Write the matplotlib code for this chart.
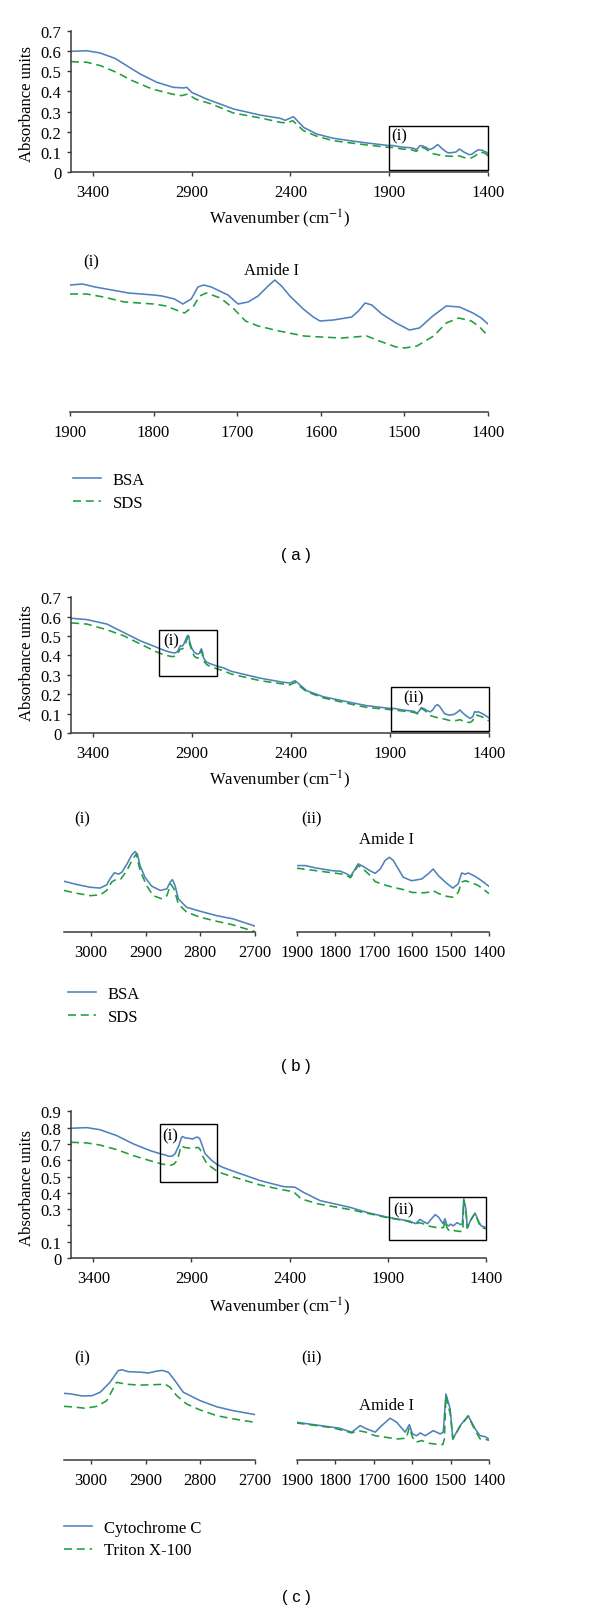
import numpy as np
import matplotlib
matplotlib.use('Agg')
import matplotlib.pyplot as plt
from matplotlib.patches import Rectangle

plt.rcParams['font.family'] = ['Liberation Serif', 'DejaVu Serif']
plt.rcParams['mathtext.fontset'] = 'stix'

BLUE = '#4F81BD'
GREEN = '#1E9E3C'
DASH = (0, (5.0, 3.0))
AXC = '#3a3a3a'
FS = 12

# ---------------- datos (a) BSA / SDS ----------------
a_bsa_wn = [3510, 3430, 3363, 3287, 3228, 3160, 3076, 2992, 2941, 2924, 2899, 2823, 2688,
            2553, 2452, 2426, 2384, 2333, 2266, 2182, 2097, 2013]
a_bsa = [0.598, 0.601, 0.590, 0.563, 0.527, 0.486, 0.445, 0.420, 0.417, 0.420, 0.395, 0.362, 0.313,
         0.283, 0.267, 0.257, 0.275, 0.222, 0.189, 0.168, 0.156, 0.145]
a_sds_wn = [3510, 3430, 3360, 3280, 3200, 3100, 3000, 2950, 2920, 2880, 2800, 2688, 2553,
            2452, 2418, 2388, 2334, 2266, 2182, 2013]
a_sds = [0.547, 0.544, 0.527, 0.494, 0.453, 0.412, 0.387, 0.379, 0.387, 0.362, 0.338, 0.293, 0.269,
         0.247, 0.244, 0.255, 0.206, 0.178, 0.156, 0.135]

# inset (i) de (a): 1900-1400
ai_bsa_wn = [1900, 1885, 1870, 1850, 1830, 1800, 1790, 1775, 1765, 1755, 1747, 1740, 1731, 1721,
             1711, 1699, 1687, 1675, 1663, 1655, 1647, 1637, 1621, 1609, 1601, 1585, 1563, 1555,
             1547, 1539, 1527, 1510, 1494, 1482, 1466, 1450, 1434, 1418, 1408, 1400]
ai_bsa = [0.132, 0.133, 0.130, 0.127, 0.124, 0.122, 0.121, 0.118, 0.113, 0.118, 0.130, 0.132, 0.130,
          0.126, 0.122, 0.113, 0.115, 0.121, 0.131, 0.137, 0.131, 0.121, 0.108, 0.100, 0.096, 0.097,
          0.100, 0.106, 0.114, 0.112, 0.103, 0.094, 0.087, 0.089, 0.101, 0.111, 0.110, 0.104, 0.099,
          0.093]
ai_sds_wn = [1900, 1880, 1860, 1835, 1800, 1785, 1770, 1763, 1752, 1745, 1737, 1720, 1705, 1690,
             1675, 1650, 1620, 1600, 1575, 1560, 1545, 1530, 1510, 1500, 1485, 1465, 1450, 1435,
             1420, 1410, 1400]
ai_sds = [0.123, 0.123, 0.120, 0.115, 0.113, 0.111, 0.106, 0.104, 0.111, 0.121, 0.124, 0.119, 0.109,
          0.096, 0.091, 0.086, 0.081, 0.080, 0.079, 0.080, 0.081, 0.076, 0.070, 0.069, 0.071, 0.081,
          0.094, 0.099, 0.096, 0.090, 0.081]

# ---------------- datos (b) BSA / SDS ----------------
b_bsa_wn = [3509, 3430, 3329, 3245, 3161, 3077]
b_bsa = [0.592, 0.585, 0.562, 0.519, 0.476, 0.442]
b_bsa_wn2 = [2555, 2440, 2404, 2378, 2319, 2235, 2100, 2016]
b_bsa2 = [0.283, 0.262, 0.258, 0.270, 0.218, 0.187, 0.158, 0.141]
b_sds_wn = [3509, 3430, 3330, 3245, 3160, 3077]
b_sds = [0.568, 0.562, 0.533, 0.502, 0.459, 0.418]
b_sds_wn2 = [2555, 2440, 2405, 2378, 2320, 2235, 2100, 2016]
b_sds2 = [0.270, 0.253, 0.248, 0.261, 0.213, 0.181, 0.150, 0.132]

bi_bsa_wn = [3049, 3026, 3001, 2983, 2971, 2965, 2957, 2949, 2943, 2934, 2925, 2919, 2915, 2910,
             2901, 2889, 2873, 2861, 2855, 2851, 2846, 2840, 2825, 2800, 2770, 2740, 2700]
bi_bsa = [0.430, 0.422, 0.415, 0.413, 0.421, 0.436, 0.451, 0.448, 0.453, 0.473, 0.496, 0.504, 0.498,
          0.469, 0.440, 0.418, 0.407, 0.411, 0.428, 0.434, 0.419, 0.386, 0.365, 0.355, 0.344, 0.336,
          0.318]
bi_sds_wn = [3049, 3026, 3001, 2983, 2971, 2962, 2956, 2946, 2934, 2925, 2917, 2910, 2898, 2886,
             2870, 2861, 2854, 2848, 2840, 2825, 2800, 2770, 2740, 2700]
bi_sds = [0.407, 0.400, 0.394, 0.396, 0.407, 0.428, 0.433, 0.434, 0.457, 0.482, 0.498, 0.457, 0.419,
          0.394, 0.386, 0.394, 0.423, 0.411, 0.373, 0.353, 0.340, 0.330, 0.321, 0.304]

bii_bsa_wn = [1900, 1878, 1848, 1805, 1787, 1770, 1760, 1751, 1740, 1727, 1709, 1696, 1683, 1670,
              1659, 1649, 1623, 1601, 1575, 1558, 1545, 1532, 1510, 1494, 1480, 1471, 1462, 1454,
              1436, 1419, 1400]
bii_bsa = [0.127, 0.127, 0.121, 0.115, 0.114, 0.108, 0.102, 0.115, 0.131, 0.125, 0.115, 0.109, 0.119,
           0.139, 0.146, 0.139, 0.100, 0.092, 0.096, 0.108, 0.119, 0.104, 0.086, 0.075, 0.085, 0.110,
           0.107, 0.110, 0.102, 0.092, 0.079]
bii_sds_wn = [1900, 1848, 1805, 1787, 1770, 1760, 1751, 1740, 1727, 1709, 1696, 1670, 1650, 1620,
              1600, 1575, 1560, 1545, 1530, 1510, 1494, 1480, 1471, 1462, 1450, 1430, 1415, 1400]
bii_sds = [0.121, 0.115, 0.110, 0.108, 0.104, 0.099, 0.112, 0.127, 0.119, 0.104, 0.090, 0.082, 0.077,
           0.071, 0.065, 0.064, 0.065, 0.069, 0.062, 0.056, 0.054, 0.065, 0.089, 0.092, 0.089, 0.082,
           0.073, 0.062]

# ---------------- datos (c) Citocromo C / Triton X-100 ----------------
c_cyt_wn = [3514, 3434, 3366, 3281, 3196, 3111]
c_cyt = [0.796, 0.800, 0.787, 0.751, 0.700, 0.659]
c_cyt_wn2 = [2550, 2431, 2372, 2329, 2244, 2092, 2007]
c_cyt2 = [0.475, 0.438, 0.434, 0.403, 0.352, 0.311, 0.280]
c_tri_wn = [3514, 3434, 3366, 3281, 3196, 3111]
c_tri = [0.710, 0.706, 0.693, 0.665, 0.628, 0.597]
c_tri_wn2 = [2550, 2430, 2380, 2340, 2250, 2090]
c_tri2 = [0.448, 0.417, 0.407, 0.362, 0.331, 0.297]

ci_cyt_wn = [3049, 3038, 3016, 2998, 2983, 2965, 2950, 2943, 2931, 2910, 2895, 2879, 2869, 2858,
             2846, 2831, 2800, 2770, 2740, 2700]
ci_cyt = [0.636, 0.634, 0.624, 0.625, 0.641, 0.687, 0.741, 0.745, 0.736, 0.734, 0.730, 0.739, 0.742,
          0.733, 0.694, 0.641, 0.602, 0.574, 0.556, 0.538]
ci_tri_wn = [3049, 3032, 3010, 2989, 2971, 2953, 2934, 2910, 2886, 2864, 2855, 2843, 2825, 2800,
             2770, 2740, 2700]
ci_tri = [0.576, 0.573, 0.567, 0.576, 0.602, 0.687, 0.678, 0.674, 0.676, 0.678, 0.664, 0.625, 0.587,
          0.559, 0.533, 0.518, 0.502]

cii_cyt_wn = [1900, 1848, 1805, 1787, 1770, 1757, 1748, 1735, 1718, 1696, 1679, 1657, 1640, 1618,
              1607, 1599, 1588, 1579, 1566, 1545, 1527, 1519, 1512, 1501, 1494, 1475, 1454, 1436,
              1423, 1410, 1400]
cii_cyt = [0.250, 0.239, 0.230, 0.226, 0.217, 0.211, 0.221, 0.237, 0.224, 0.211, 0.237, 0.266, 0.250,
           0.211, 0.241, 0.204, 0.197, 0.208, 0.197, 0.217, 0.204, 0.211, 0.362, 0.303, 0.184, 0.237,
           0.276, 0.224, 0.197, 0.193, 0.184]
cii_tri_wn = [1900, 1805, 1757, 1740, 1720, 1696, 1670, 1640, 1615, 1607, 1599, 1590, 1575, 1560,
              1540, 1520, 1516, 1512, 1500, 1494, 1475, 1454, 1436, 1423, 1410, 1400]
cii_tri = [0.247, 0.228, 0.208, 0.217, 0.211, 0.197, 0.191, 0.184, 0.187, 0.230, 0.191, 0.171, 0.178,
           0.168, 0.164, 0.162, 0.184, 0.355, 0.276, 0.184, 0.234, 0.274, 0.217, 0.184, 0.184, 0.178]

# recuadros de zoom en los graficos principales: (wn izq, wn der, y inf, y sup)
a_boxes = [(1900, 1400, 0.010, 0.230)]
b_boxes = [(3063, 2772, 0.296, 0.533), (1893, 1400, 0.010, 0.237)]
c_boxes = [(3058, 2768, 0.468, 0.822), (1891, 1400, 0.110, 0.372)]

# ---------------- figura ----------------
W, H = 600, 1615
fig = plt.figure(figsize=(W / 100, H / 100), dpi=100)


def px_axes(l, t, r, b):
    return fig.add_axes([l / W, 1 - b / H, (r - l) / W, (b - t) / H])


def ftext(x, y, s, **kw):
    kw.setdefault('fontsize', FS)
    fig.text(x / W, 1 - y / H, s, ha='center', va='center', **kw)


def style(ax, inset=False):
    for sp in ['top', 'right']:
        ax.spines[sp].set_visible(False)
    for sp in ['left', 'bottom']:
        ax.spines[sp].set_color(AXC)
        ax.spines[sp].set_linewidth(1.1)
    ax.tick_params(direction='out', length=3, width=1.0, color=AXC, labelsize=FS, pad=5.5)
    ax.tick_params(axis='y', pad=4)
    if inset:
        ax.spines['left'].set_visible(False)
        ax.set_yticks([])


def main_panel(pos, s1, s2, names, xl, ymax, yticks, ylabels, boxes, tags):
    ax = px_axes(*pos)
    l1, = ax.plot(np.concatenate(s1[0]), np.concatenate(s1[1]), color=BLUE, lw=1.15, label=names[0])
    l2, = ax.plot(np.concatenate(s2[0]), np.concatenate(s2[1]), color=GREEN, lw=1.15, ls=DASH,
                  label=names[1])
    ax.set_xlim(xl, 1400)
    ax.set_ylim(0, ymax)
    ax.set_xticks([3400, 2900, 2400, 1900, 1400])
    ax.set_yticks(yticks)
    ax.set_yticklabels(ylabels)
    style(ax)
    for (x0, x1, y0, y1), (tag, tx, ty) in zip(boxes, tags):
        ax.add_patch(Rectangle((x1, y0), x0 - x1, y1 - y0, fill=False, ec='black', lw=1.0,
                               zorder=3, clip_on=False))
        ax.text(tx, ty, tag, ha='left', va='center', fontsize=FS)
    return ax, [l1, l2]


def inset_panel(pos, s1, s2, xl, yl, xticks):
    ax = px_axes(*pos)
    ax.plot(s1[0], s1[1], color=BLUE, lw=1.15)
    ax.plot(s2[0], s2[1], color=GREEN, lw=1.15, ls=DASH)
    ax.set_xlim(*xl)
    ax.set_ylim(*yl)
    ax.set_xticks(xticks)
    style(ax, inset=True)
    return ax


def legend(handles, names, x0, ymid):
    fig.legend(handles, names, loc='center left', bbox_to_anchor=(x0 / W, 1 - ymid / H),
               frameon=False, fontsize=FS, handlelength=1.7, handletextpad=0.7,
               labelspacing=0.4, borderpad=0, borderaxespad=0)


yt7 = [0, 0.1, 0.2, 0.3, 0.4, 0.5, 0.6, 0.7]
yl7 = ['0', '0.1', '0.2', '0.3', '0.4', '0.5', '0.6', '0.7']
yt9 = [0, 0.1, 0.2, 0.3, 0.4, 0.5, 0.6, 0.7, 0.8, 0.9]
yl9 = ['0', '0.1', '', '0.3', '0.4', '0.5', '0.6', '0.7', '0.8', '0.9']
xl_wn = 'Wavenumber (cm$^{-1}$)'
t_amide = [1900, 1800, 1700, 1600, 1500, 1400]
t_ch = [3000, 2900, 2800, 2700]
SANS = ['Liberation Sans', 'DejaVu Sans']

# (a)
ax, h = main_panel((71, 31.7, 488, 173.3),
                   ([a_bsa_wn, ai_bsa_wn], [a_bsa, ai_bsa]),
                   ([a_sds_wn, ai_sds_wn], [a_sds, ai_sds]),
                   ['BSA', 'SDS'], 3510, 0.7, yt7, yl7, a_boxes, [('(i)', 1888, 0.181)])
ftext(27, 104, 'Absorbance units', rotation=90)
ftext(280, 219, xl_wn)
inset_panel((70, 260, 488, 412.7), (ai_bsa_wn, ai_bsa), (ai_sds_wn, ai_sds),
            (1900, 1400), (0.0053, 0.158), t_amide)
ftext(90.7, 262.7, '(i)')
ftext(272, 270.7, 'Amide I')
legend(h, ['BSA', 'SDS'], 73, 492.5)
ftext(296, 556, '( a )', family=SANS, fontsize=12)

# (b)
ax, h = main_panel((71, 598.3, 488.7, 734),
                   ([b_bsa_wn, bi_bsa_wn, b_bsa_wn2, bii_bsa_wn], [b_bsa, bi_bsa, b_bsa2, bii_bsa]),
                   ([b_sds_wn, bi_sds_wn, b_sds_wn2, bii_sds_wn], [b_sds, bi_sds, b_sds2, bii_sds]),
                   ['BSA', 'SDS'], 3510, 0.7, yt7, yl7, b_boxes,
                   [('(i)', 3045, 0.480), ('(ii)', 1833, 0.184)])
ftext(27, 663, 'Absorbance units', rotation=90)
ftext(280, 780, xl_wn)
inset_panel((64, 815, 255, 933.3), (bi_bsa_wn, bi_bsa), (bi_sds_wn, bi_sds),
            (3049, 2700), (0.3025, 0.598), t_ch)
inset_panel((296.7, 815, 489, 933.3), (bii_bsa_wn, bii_bsa), (bii_sds_wn, bii_sds),
            (1900, 1400), (-0.027, 0.246), t_amide)
ftext(81.7, 819.3, '(i)')
ftext(312, 819.3, '(ii)')
ftext(386.7, 840, 'Amide I')
legend(h, ['BSA', 'SDS'], 68, 1006.5)
ftext(296, 1066, '( b )', family=SANS, fontsize=12)

# (c)
ax, h = main_panel((71, 1112.3, 485.7, 1259),
                   ([c_cyt_wn, ci_cyt_wn, c_cyt_wn2, cii_cyt_wn], [c_cyt, ci_cyt, c_cyt2, cii_cyt]),
                   ([c_tri_wn, ci_tri_wn, c_tri_wn2, cii_tri_wn], [c_tri, ci_tri, c_tri2, cii_tri]),
                   ['Cytochrome C', 'Triton X-100'], 3514, 0.9, yt9, yl9, c_boxes,
                   [('(i)', 3050, 0.755), ('(ii)', 1872, 0.297)])
ftext(27, 1188, 'Absorbance units', rotation=90)
ftext(280, 1306.7, xl_wn)
inset_panel((64, 1356.7, 255, 1461), (ci_cyt_wn, ci_cyt), (ci_tri_wn, ci_tri),
            (3049, 2700), (0.328, 0.810), t_ch)
inset_panel((296.7, 1356.7, 489, 1461), (cii_cyt_wn, cii_cyt), (cii_tri_wn, cii_tri),
            (1900, 1400), (0.101, 0.513), t_amide)
ftext(81.7, 1358.3, '(i)')
ftext(312, 1358.3, '(ii)')
ftext(386.7, 1406, 'Amide I')
legend(h, ['Cytochrome C', 'Triton X-100'], 64, 1540)
ftext(296, 1598, '( c )', family=SANS, fontsize=12)

fig.savefig('out.png', dpi=100)
